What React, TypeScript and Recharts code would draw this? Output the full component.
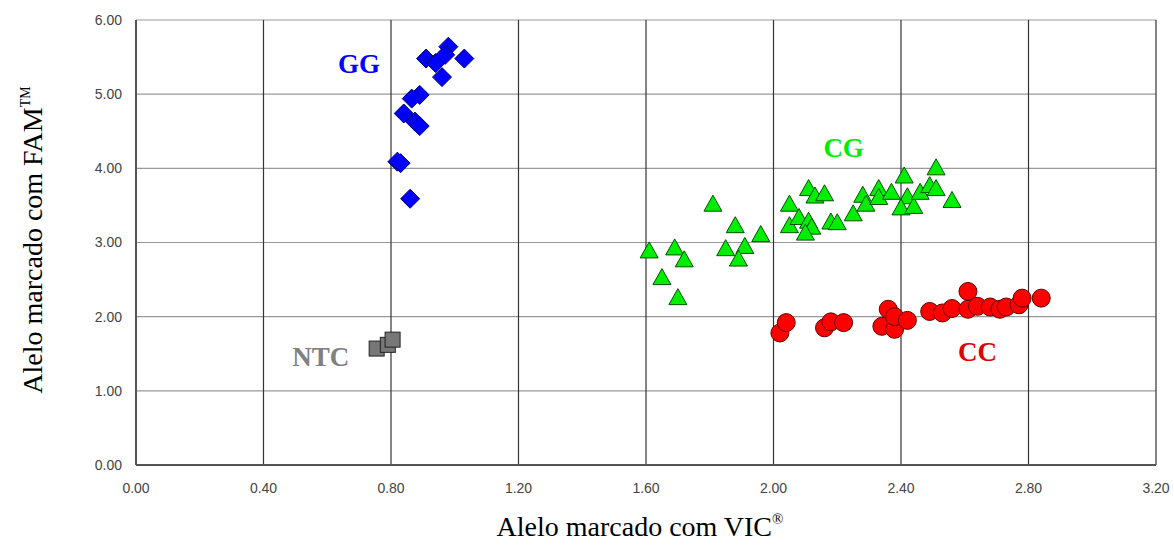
import { ScatterChart, Scatter, XAxis, YAxis, CartesianGrid, Label } from "recharts";

// genotype clusters (x = VIC, y = FAM)
const GG_X = [0.91, 0.94, 0.98, 0.97, 1.03, 0.96, 0.89, 0.865, 0.84, 0.875, 0.89, 0.82, 0.83, 0.86];
const GG_Y = [5.48, 5.42, 5.64, 5.53, 5.48, 5.23, 4.99, 4.94, 4.74, 4.63, 4.57, 4.09, 4.07, 3.59];

const CG_X = [1.61, 1.69, 1.72, 1.65, 1.70, 1.81, 1.88, 1.85, 1.91, 1.89, 1.96, 2.05, 2.05, 2.08, 2.11, 2.13, 2.16, 2.11, 2.12, 2.10, 2.18, 2.20, 2.25, 2.28, 2.29, 2.33, 2.33, 2.37, 2.41, 2.42, 2.40, 2.44, 2.46, 2.49, 2.51, 2.51, 2.56];
const CG_Y = [2.88, 2.92, 2.76, 2.52, 2.25, 3.51, 3.22, 2.91, 2.94, 2.77, 3.10, 3.51, 3.22, 3.33, 3.72, 3.62, 3.65, 3.28, 3.20, 3.12, 3.27, 3.26, 3.38, 3.63, 3.51, 3.72, 3.60, 3.67, 3.89, 3.61, 3.46, 3.48, 3.67, 3.76, 3.72, 4.00, 3.56];

const CC_X = [2.02, 2.04, 2.16, 2.18, 2.22, 2.34, 2.36, 2.38, 2.38, 2.42, 2.49, 2.53, 2.56, 2.61, 2.61, 2.64, 2.68, 2.71, 2.73, 2.77, 2.78, 2.84];
const CC_Y = [1.78, 1.92, 1.85, 1.93, 1.92, 1.87, 2.10, 1.83, 2.00, 1.95, 2.07, 2.05, 2.11, 2.34, 2.10, 2.14, 2.13, 2.10, 2.13, 2.16, 2.25, 2.25];

const NTC_X = [0.755, 0.79, 0.805];
const NTC_Y = [1.57, 1.62, 1.69];

const CLUSTER_NAMES = ["GG", "CG", "CC", "NTC"];
const CLUSTER_LABEL_X = [0.70, 2.22, 2.64, 0.58];
const CLUSTER_LABEL_Y = [5.41, 4.27, 1.52, 1.46];
const CLUSTER_COLORS = ["#0000ff", "#00ee00", "#e00000", "#808080"];

const X_TICKS = [0, 0.4, 0.8, 1.2, 1.6, 2.0, 2.4, 2.8, 3.2];
const Y_TICKS = [0, 1, 2, 3, 4, 5, 6];

const toPoints = (xs: number[], ys: number[]) => xs.map((x, i) => ({ x, y: ys[i] }));

const ggData = toPoints(GG_X, GG_Y);
const cgData = toPoints(CG_X, CG_Y);
const ccData = toPoints(CC_X, CC_Y);
const ntcData = toPoints(NTC_X, NTC_Y);
const labelData = CLUSTER_NAMES.map((name, i) => ({
  x: CLUSTER_LABEL_X[i],
  y: CLUSTER_LABEL_Y[i],
  name,
  color: CLUSTER_COLORS[i],
}));

const SERIF = "Liberation Serif, Times New Roman, serif";

const Diamond = (p: any) => {
  const { cx, cy } = p;
  const r = 9.5;
  return (
    <polygon
      points={`${cx},${cy - r} ${cx + r},${cy} ${cx},${cy + r} ${cx - r},${cy}`}
      fill="#0000ff"
      stroke="#000070"
      strokeWidth={1}
    />
  );
};

const Triangle = (p: any) => {
  const { cx, cy } = p;
  return (
    <polygon
      points={`${cx},${cy - 9.5} ${cx + 9},${cy + 6.5} ${cx - 9},${cy + 6.5}`}
      fill="#00ee00"
      stroke="#005000"
      strokeWidth={1}
    />
  );
};

const Circle = (p: any) => {
  const { cx, cy } = p;
  return <circle cx={cx} cy={cy} r={9} fill="#ff0000" stroke="#600000" strokeWidth={1} />;
};

const Square = (p: any) => {
  const { cx, cy } = p;
  return <rect x={cx - 7.5} y={cy - 7.5} width={15} height={15} fill="#777777" stroke="#222222" strokeWidth={1} />;
};

const ClusterText = (p: any) => {
  const { cx, cy, payload } = p;
  return (
    <text
      x={cx}
      y={cy}
      textAnchor="middle"
      dominantBaseline="central"
      fill={payload.color}
      fontFamily={SERIF}
      fontWeight="bold"
      fontSize={27}
    >
      {payload.name}
    </text>
  );
};

const tickStyle = { fontSize: 14, fill: "#444", fontFamily: "Liberation Sans, Arial, sans-serif" };

export default function App() {
  return (
    <div style={{ position: "absolute", left: 0, top: 0, width: 1174, height: 545, background: "#fff" }}>
      <ScatterChart width={1174} height={545} margin={{ top: 20, right: 18, left: 0, bottom: 0 }}>
        <CartesianGrid vertical={false} stroke="#999" strokeWidth={1.2} />
        <CartesianGrid horizontal={false} stroke="#333" strokeWidth={1.2} />
        <XAxis
          type="number"
          dataKey="x"
          domain={[0, 3.2]}
          ticks={X_TICKS}
          tickFormatter={(v: number) => v.toFixed(2)}
          tick={tickStyle}
          tickLine={false}
          axisLine={{ stroke: "#555", strokeWidth: 2 }}
          tickMargin={12}
          height={80}
        >
          <Label
            content={() => (
              <text x={640} y={536} textAnchor="middle" fontFamily={SERIF} fontSize={28} fill="#000">
                Alelo marcado com VIC
                <tspan fontSize={15} dy={-12}>®</tspan>
              </text>
            )}
          />
        </XAxis>
        <YAxis
          type="number"
          dataKey="y"
          domain={[0, 6]}
          ticks={Y_TICKS}
          tickFormatter={(v: number) => v.toFixed(2)}
          tick={tickStyle}
          tickLine={false}
          axisLine={{ stroke: "#555", strokeWidth: 2 }}
          tickMargin={8}
          width={136}
        >
          <Label
            content={() => (
              <text
                x={0}
                y={0}
                transform="translate(42, 240) rotate(-90)"
                textAnchor="middle"
                fontFamily={SERIF}
                fontSize={28}
                fill="#000"
              >
                Alelo marcado com FAM
                <tspan fontSize={14} dy={-12}>TM</tspan>
              </text>
            )}
          />
        </YAxis>
        <Scatter data={ntcData} shape={Square} isAnimationActive={false} />
        <Scatter data={ggData} shape={Diamond} isAnimationActive={false} />
        <Scatter data={cgData} shape={Triangle} isAnimationActive={false} />
        <Scatter data={ccData} shape={Circle} isAnimationActive={false} />
        <Scatter data={labelData} shape={ClusterText} isAnimationActive={false} />
      </ScatterChart>
    </div>
  );
}
